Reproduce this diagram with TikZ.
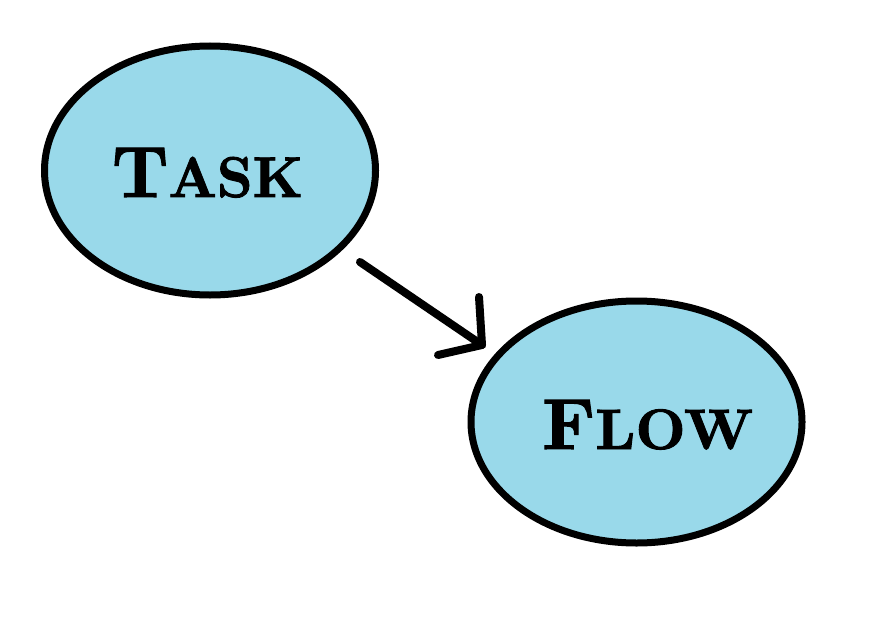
\documentclass[tikz,border=0pt]{standalone}
\usepackage{fontspec}
\usetikzlibrary{shapes.geometric}
\newfontfamily\cpfont{lmroman10-bold}[Extension=.otf, FakeBold=1.6]
\definecolor{bubble}{RGB}{153,217,234}
\newcommand{\capword}[4]{\resizebox{#3}{#4}{\cpfont\fontsize{72}{72}\selectfont #1\fontsize{57}{57}\selectfont #2}}
\begin{document}
\begin{tikzpicture}[x=1pt,y=-1pt,
  bubblebox/.style={ellipse, draw=black, fill=bubble, line width=7pt, inner sep=0pt},
  wordbox/.style={inner sep=0pt, anchor=base},
  arrowline/.style={line width=8pt, line cap=round, line join=round}]
\useasboundingbox[fill=white] (0,0) rectangle (885,623);
\node[bubblebox, minimum width=331pt, minimum height=249pt] (task) at (210,170.5) {};
\node[bubblebox, minimum width=331pt, minimum height=242pt] (flow) at (636.5,422) {};
\node[wordbox] (tasktext) at (207.5,197) {\capword{T}{ASK}{191pt}{49pt}};
\node[wordbox] (flowtext) at (647.5,449) {\capword{F}{LOW}{211pt}{49pt}};
\coordinate (a0) at (360,262);
\coordinate (tip) at (482,345);
\coordinate (b1) at (479,297);
\coordinate (b2) at (438,355);
\draw[arrowline] (a0) -- (tip);
\draw[arrowline] (b1) -- (tip) -- (b2);
\end{tikzpicture}
\end{document}
